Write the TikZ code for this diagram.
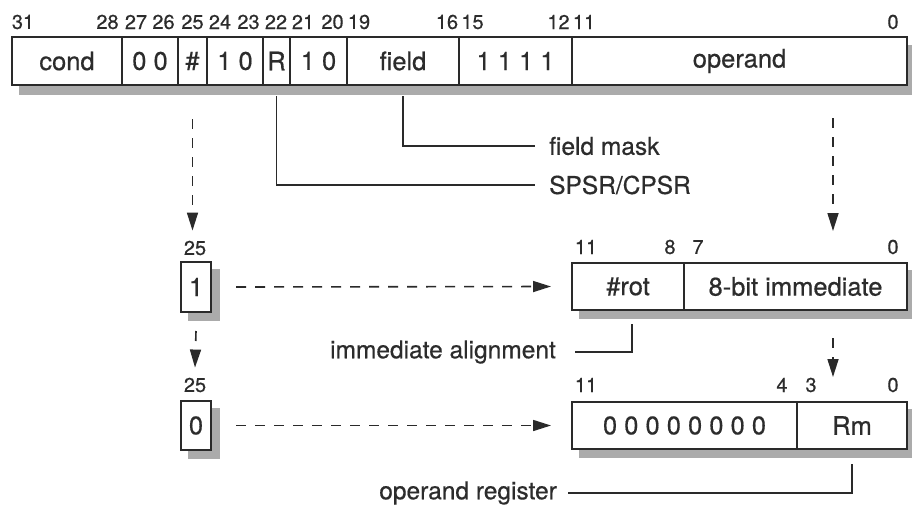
\documentclass[tikz,border=0pt]{standalone}
\usepackage{fontspec}
\setmainfont{TeX Gyre Heros}[FakeBold=0.5]
\usetikzlibrary{arrows.meta,backgrounds}
\definecolor{inkc}{HTML}{2A2A2A}
\definecolor{txtc}{HTML}{2C2C2C}
\definecolor{shadec}{HTML}{ABABAB}
\newcommand\regfield[6]{\node[fieldbox,minimum width={(#3-#2)*1pt},minimum height={(#5-#4)*1pt}] (#1) at ({(#2+#3)/2},{(#4+#5)/2}) {#6};}
\begin{document}
\begin{tikzpicture}[x=1pt,y=-1pt,
  fieldbox/.style={draw=inkc,line width=2pt,fill=white,inner sep=0pt,text=txtc,font=\fontsize{25.5}{25.5}\selectfont},
  bitnum/.style={text=txtc,inner sep=0pt,font=\fontsize{20}{20}\selectfont},
  sidelbl/.style={text=txtc,inner sep=0pt,font=\fontsize{24.5}{24.5}\selectfont},
  dasharrow/.style={draw=inkc,line width=1.6pt,dash pattern=on 10pt off 9pt,-{Triangle[length=18pt,width=11pt]}},
  leader/.style={draw=inkc,line width=1.5pt}]
\useasboundingbox (0,0) rectangle (912,506);
% top register
\regfield{cond}{12}{122}{37}{85}{cond}
\regfield{dz}{122}{178}{37}{85}{0 0}
\regfield{hash}{178}{207}{37}{85}{\#}
\regfield{ta}{207}{263}{37}{85}{1 0}
\regfield{rr}{263}{290}{37}{85}{R}
\regfield{tb}{290}{347}{37}{85}{1 0}
\regfield{field}{347}{459}{37}{85}{field}
\regfield{ones}{459}{572}{37}{85}{1 1 1 1}
\regfield{operand}{572}{907}{37}{85}{operand}
% bit numbers top
\foreach \nm/\xx in {31/23,28/107.5,27/136,26/163.5,25/192.5,24/220,23/248.5,22/276,21/303,20/332.5,19/359,16/447,15/472.5,12/558.5,11/584,0/893}
  \node[bitnum] (t\nm) at (\xx,22) {\nm};
% small boxes
\regfield{one}{181}{211}{262}{312}{1}
\regfield{zero}{181}{211}{401}{450}{0}
\node[bitnum] (ba25) at (195,248) {25};
\node[bitnum] (bb25) at (195,385) {25};
% immediate register
\regfield{rot}{572}{684}{263}{310}{\#rot}
\regfield{imm}{684}{907}{263}{310}{8-bit immediate}
\node[bitnum] (i11) at (586,247) {11};
\node[bitnum] (i8) at (670,247) {8};
\node[bitnum] (i7) at (698,247) {7};
\node[bitnum] (i0) at (893,247) {0};
% register operand
\regfield{zeros}{572}{797}{402}{449}{0 0 0 0 0 0 0 0}
\regfield{rm}{797}{907}{402}{449}{Rm}
\node[bitnum] (z11) at (586,385) {11};
\node[bitnum] (z4) at (782,385) {4};
\node[bitnum] (z3) at (811,385) {3};
\node[bitnum] (z0) at (893,385) {0};
% side labels
\node[sidelbl,anchor=west] (fmask) at (549,146) {field mask};
\node[sidelbl,anchor=west] (spsr) at (549,185) {SPSR/CPSR};
\node[sidelbl,anchor=east] (ialign) at (556,352) {immediate alignment};
\node[sidelbl,anchor=east] (opreg) at (557,493) {operand register};
% leaders
\draw[leader] ([yshift=-10pt]field.south) |- ([xshift=-14pt]fmask.west);
\draw[leader] ([yshift=-10pt]rr.south) |- ([xshift=-14pt]spsr.west);
\draw[leader] ([xshift=4pt,yshift=-13pt]rot.south) |- ([xshift=19pt]ialign.east);
\draw[leader] ([yshift=-14pt]rm.south) |- ([xshift=11pt]opreg.east);
% dashed arrows
\draw[dasharrow] ([yshift=-33pt]hash.south) -- ([yshift=10pt]hash.south |- ba25.north);
\draw[dasharrow] ([yshift=-18pt]one.south) -- ([yshift=10pt]bb25.north);
\draw[dasharrow] ([xshift=24pt]one.east) -- ([xshift=-20pt]rot.west);
\draw[dasharrow] ([xshift=24pt]zero.east) -- ([xshift=-20pt]zeros.west);
\coordinate (opA) at (833,118);
\coordinate (opB) at (833,231);
\coordinate (imA) at (833,338);
\coordinate (imB) at (833,377);
\draw[dasharrow] (opA) -- (opB);
\draw[dasharrow] (imA) -- (imB);
% background and shadows
\begin{scope}[on background layer]
\fill[white] (0,0) rectangle (912,506);
\fill[shadec] ([shift={(8,9)}]cond.north west) rectangle ([shift={(8,9)}]operand.south east);
\fill[shadec] ([shift={(8,8)}]one.north west) rectangle ([shift={(8,8)}]one.south east);
\fill[shadec] ([shift={(8,8)}]zero.north west) rectangle ([shift={(8,8)}]zero.south east);
\fill[shadec] ([shift={(8,8)}]rot.north west) rectangle ([shift={(8,8)}]imm.south east);
\fill[shadec] ([shift={(8,8)}]zeros.north west) rectangle ([shift={(8,8)}]rm.south east);
\end{scope}
\end{tikzpicture}
\end{document}
